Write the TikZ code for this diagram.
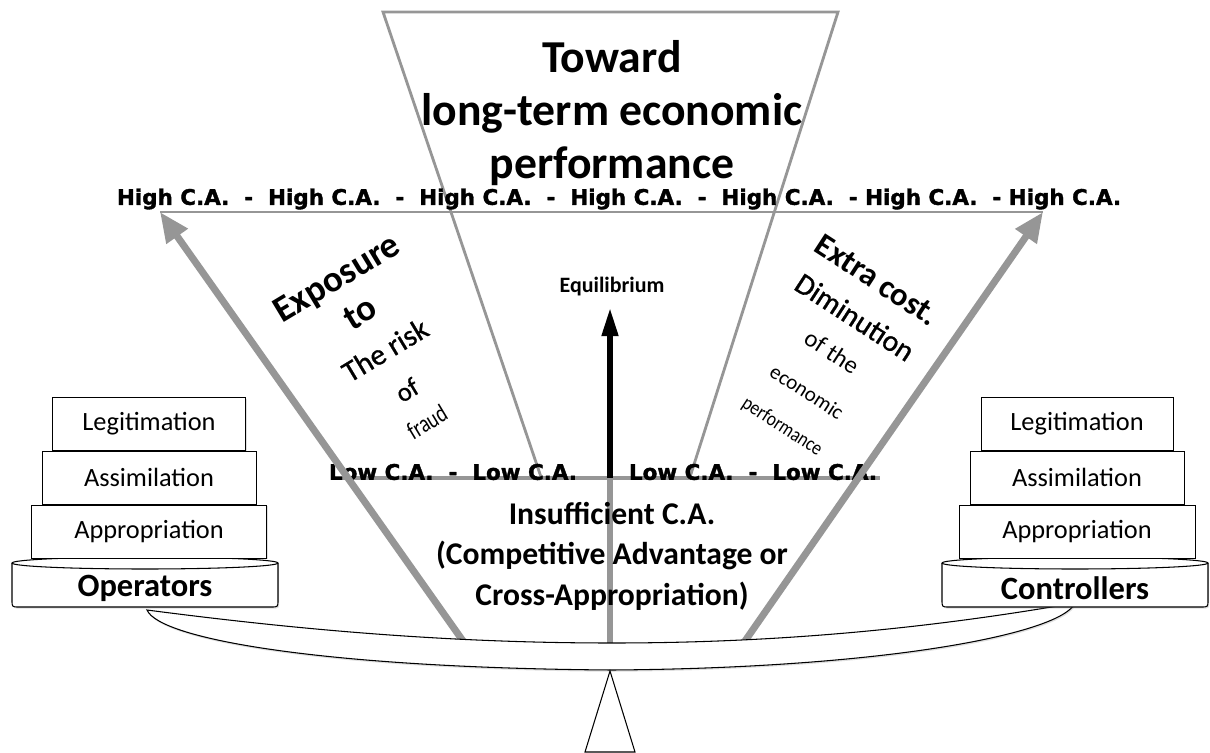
\documentclass[tikz,border=0pt]{standalone}
\usepackage{fontspec}
\setmainfont{Carlito}
\newfontfamily\blackfont{DejaVu Sans}[BoldFeatures={FakeBold=1.6}]
\newfontfamily\semifont{Carlito}[FakeBold=0.9]
\usetikzlibrary{positioning,arrows.meta,shadows}
\definecolor{rayGray}{RGB}{150,150,150}
\tikzset{
  tier/.style={draw, fill=white, minimum height=1.06cm, inner sep=0pt,
    font=\fontsize{15}{18}\selectfont,
    drop shadow={opacity=0.25,shadow xshift=0.7pt,shadow yshift=-0.9pt}},
  ray/.style={draw=rayGray, line width=1.6pt},
  bigray/.style={draw=rayGray, line width=4pt, -{Triangle[width=14pt,length=17pt]}},
  ca/.style={font=\blackfont\bfseries\fontsize{12.2}{14}\selectfont, inner sep=0pt},
  slant/.style={inner sep=0pt}
}

\begin{document}
\begin{tikzpicture}[x=0.02cm,y=-0.02cm]
    \useasboundingbox (0,0) rectangle (1210,753);
    % funnel
    \coordinate (fTL) at (383,12);
    \coordinate (fTR) at (838,12);
    \coordinate (fBL) at (541,477);
    \coordinate (fBR) at (690,477);
    \draw[ray] (fBL)--(fTL)--(fTR)--(fBR);
    \node[font=\bfseries\fontsize{26}{30}\selectfont, align=center] (toward) at (612,113)
      {Toward\\long-term economic\\performance};
    % high and low levels
    \coordinate (hiL) at (160,212);
    \coordinate (hiR) at (1043,212);
    \draw[ray] (hiL)--(hiR);
    \node[ca] (high) at (619,199)
      {High C.A.\ \ -\ \ High C.A.\ \ -\ \ High C.A.\ \ -\ \ High C.A.\ \ -\ \ High C.A.\ \ - High C.A.\ \ - High C.A.};
    \coordinate (loL) at (333,478);
    \coordinate (loR) at (880,478);
    \coordinate (loC) at (610,478);
    \draw[draw=rayGray, line width=2pt] (loL)--(loR);
    \node[ca] (lowA) at (453,472) {Low C.A.\ \ -\ \ Low C.A.};
    \node[ca] (lowB) at (753,472) {Low C.A.\ \ -\ \ Low C.A.};
    % rays from the beam
    \coordinate (bmL) at (463,641);
    \coordinate (bmR) at (745,641);
    \coordinate (bmC) at (610,643);
    \draw[bigray] (bmL)--(hiL);
    \draw[bigray] (bmR)--(hiR);
    \draw[draw=rayGray, line width=3.2pt] (bmC)--(loC);
    % equilibrium
    \node[font=\bfseries\fontsize{12.5}{15}\selectfont] (equi) at (612,287) {Equilibrium};
    \coordinate (equiTip) at (610,308);
    \draw[line width=3pt, -{Triangle[width=9pt,length=16pt]}] (loC)--(equiTip);
    \node[font=\bfseries\fontsize{18}{23}\selectfont, align=center] (insuf) at (612,556)
      {Insufficient C.A.\\(Competitive Advantage or\\Cross-Appropriation)};
    % left slanted text
    \node[slant, rotate=31, font=\bfseries\fontsize{21}{24}\selectfont] (ex1) at (338,280) {Exposure};
    \node[slant, rotate=31, font=\bfseries\fontsize{21}{24}\selectfont] (ex2) at (360,313) {to};
    \node[slant, rotate=31, font=\semifont\fontsize{17}{20}\selectfont] (ex3) at (385,350) {The risk};
    \node[slant, rotate=31, font=\semifont\fontsize{15}{18}\selectfont] (ex4) at (407,390) {of};
    \node[slant, rotate=31, font=\fontsize{13}{16}\selectfont] (ex5) at (427,422) {\scalebox{0.85}[1.1]{fraud}};
    % right slanted text
    \node[slant, rotate=-33, font=\bfseries\fontsize{18.5}{22}\selectfont] (xc1) at (877,280) {Extra cost.};
    \node[slant, rotate=-33, font=\semifont\fontsize{17}{20}\selectfont] (xc2) at (855,317) {Diminution};
    \node[slant, rotate=-33, font=\fontsize{14}{17}\selectfont] (xc3) at (832,352) {of the};
    \node[slant, rotate=-33, font=\fontsize{12}{14}\selectfont] (xc4) at (807,392) {economic};
    \node[slant, rotate=-33, font=\fontsize{11}{13}\selectfont] (xc5) at (782,427) {\scalebox{0.9}[1.05]{performance}};
    % beam and fulcrum
    \draw[fill=white, line width=0.6pt, drop shadow={opacity=0.25,shadow xshift=0.5pt,shadow yshift=-1pt}]
      (147,610) .. controls (300,630) and (450,643) .. (612,643)
      .. controls (770,643) and (920,630) .. (1075,603)
      .. controls (1062,633) and (890,668) .. (612,670)
      .. controls (330,668) and (160,640) .. cycle;
    \draw[line width=0.6pt, fill=white] (610,671)--(585,752)--(635,752)--cycle;
    % operators
    \draw[fill=white, line width=0.6pt, drop shadow={opacity=0.25,shadow xshift=0.7pt,shadow yshift=-0.9pt}]
      (12,563)--(12,600) .. controls (12,607) .. (19,607)--(271,607) .. controls (278,607) .. (278,600)--(278,563);
    \draw[fill=white, line width=0.6pt] (145,563) ellipse [x radius=2.66cm, y radius=0.12cm];
    \node[font=\bfseries\fontsize{18.5}{22}\selectfont] (oper) at (145,588) {Operators};
    \node[tier, minimum width=3.86cm] (opLeg) at (149,424) {Legitimation};
    \node[tier, minimum width=4.28cm, below=0pt of opLeg] (opAss) {Assimilation};
    \node[tier, minimum width=4.70cm, below=0pt of opAss] (opApp) {Appropriation};
    % controllers
    \draw[fill=white, line width=0.6pt, drop shadow={opacity=0.25,shadow xshift=0.7pt,shadow yshift=-0.9pt}]
      (942,563)--(942,600) .. controls (942,607) .. (949,607)--(1201,607) .. controls (1208,607) .. (1208,600)--(1208,563);
    \draw[fill=white, line width=0.6pt] (1075,563) ellipse [x radius=2.66cm, y radius=0.12cm];
    \node[font=\bfseries\fontsize{18.5}{22}\selectfont] (ctrl) at (1075,588) {Controllers};
    \node[tier, minimum width=3.84cm] (ctLeg) at (1077,424) {Legitimation};
    \node[tier, minimum width=4.28cm, below=0pt of ctLeg] (ctAss) {Assimilation};
    \node[tier, minimum width=4.72cm, below=0pt of ctAss] (ctApp) {Appropriation};
\end{tikzpicture}
\end{document}
